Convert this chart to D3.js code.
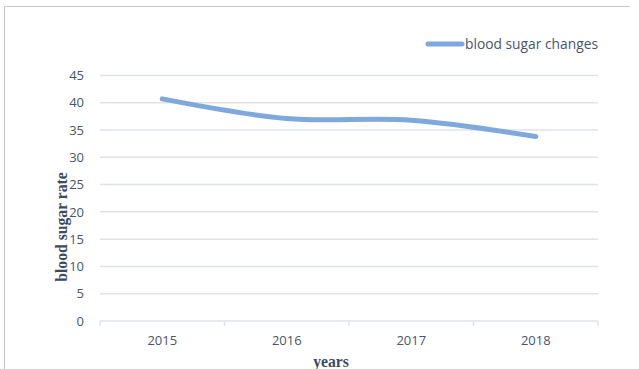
<!DOCTYPE html>
<html>
<head>
<meta charset="utf-8">
<script src="https://cdn.jsdelivr.net/npm/d3@7"></script>
<style>
  html, body { margin: 0; padding: 0; background: #fff; }
  svg { display: block; }
</style>
</head>
<body>
<svg id="chart" width="639" height="369"></svg>
<script>
// Yearly blood sugar readings
const years = ["2015", "2016", "2017", "2018"];
const bloodSugar = [40.7, 37.1, 36.8, 33.8];
const yTicks = [0, 5, 10, 15, 20, 25, 30, 35, 40, 45];
const seriesName = "blood sugar changes";

const svg = d3.select("#chart");
const W = 639, H = 369;
const plot = { left: 100, right: 598, top: 75.4, bottom: 321 };

const labelFont = "'Open Sans', 'Noto Sans', sans-serif";
const titleFont = "'Liberation Serif', 'Times New Roman', serif";
const labelColor = "#4a5568";
const titleColor = "#3b4a63";
const gridColor = "#dfe3e8";
const lineColor = "#7fa8dd";

// outer chart frame (top and left edges visible)
svg.append("path")
  .attr("d", `M4.5,${H} L4.5,6.5 L630,6.5`)
  .attr("fill", "none")
  .attr("stroke", "#c8c8c8")
  .attr("stroke-width", 1);

const x = d3.scaleBand().domain(years).range([plot.left, plot.right]);
const y = d3.scaleLinear().domain([0, 45]).range([plot.bottom, plot.top]);

// horizontal gridlines
svg.append("g")
  .selectAll("line")
  .data(yTicks.filter(t => t > 0))
  .join("line")
  .attr("x1", plot.left).attr("x2", plot.right)
  .attr("y1", d => y(d)).attr("y2", d => y(d))
  .attr("stroke", gridColor)
  .attr("stroke-width", 1.5);

// y axis labels
const yAxis = svg.append("g")
  .attr("transform", `translate(${plot.left},0)`)
  .call(d3.axisLeft(y).tickValues(yTicks).tickSize(0).tickPadding(16));
yAxis.select(".domain").remove();
yAxis.selectAll("text")
  .attr("font-family", labelFont)
  .attr("font-size", 13)
  .attr("fill", labelColor);

// x axis with boundary ticks between categories
const xAxisG = svg.append("g").attr("transform", `translate(0,${plot.bottom})`);
xAxisG.append("line")
  .attr("x1", plot.left).attr("x2", plot.right)
  .attr("stroke", gridColor).attr("stroke-width", 1.5);
const boundaries = years.map(d => x(d)).concat([x(years[years.length - 1]) + x.bandwidth()]);
xAxisG.selectAll("line.tick")
  .data(boundaries)
  .join("line")
  .attr("class", "tick")
  .attr("x1", d => d).attr("x2", d => d)
  .attr("y1", 0).attr("y2", 5)
  .attr("stroke", gridColor).attr("stroke-width", 1.5);
xAxisG.selectAll("text")
  .data(years)
  .join("text")
  .attr("x", d => x(d) + x.bandwidth() / 2)
  .attr("y", 24)
  .attr("text-anchor", "middle")
  .attr("font-family", labelFont)
  .attr("font-size", 13)
  .attr("fill", labelColor)
  .text(d => d);

// smoothed data line
const line = d3.line()
  .x((d, i) => x(years[i]) + x.bandwidth() / 2)
  .y(d => y(d))
  .curve(d3.curveCardinal.tension(0));
svg.append("path")
  .datum(bloodSugar)
  .attr("d", line)
  .attr("fill", "none")
  .attr("stroke", lineColor)
  .attr("stroke-width", 5)
  .attr("stroke-linecap", "round")
  .attr("stroke-linejoin", "round");

// legend
const legend = svg.append("g").attr("transform", "translate(428,44)");
legend.append("line")
  .attr("x1", 0).attr("x2", 34)
  .attr("stroke", lineColor).attr("stroke-width", 5)
  .attr("stroke-linecap", "round");
legend.append("text")
  .attr("x", 37).attr("y", 5)
  .attr("font-family", labelFont)
  .attr("font-size", 13.8)
  .attr("fill", labelColor)
  .text(seriesName);

// axis titles
svg.append("text")
  .attr("transform", `translate(67,227) rotate(-90)`)
  .attr("text-anchor", "middle")
  .attr("font-family", titleFont)
  .attr("font-weight", "bold")
  .attr("font-size", 15.7)
  .attr("fill", titleColor)
  .text("blood sugar rate");

svg.append("text")
  .attr("x", 331).attr("y", 367)
  .attr("text-anchor", "middle")
  .attr("font-family", titleFont)
  .attr("font-weight", "bold")
  .attr("font-size", 15.7)
  .attr("fill", titleColor)
  .text("years");
</script>
</body>
</html>
